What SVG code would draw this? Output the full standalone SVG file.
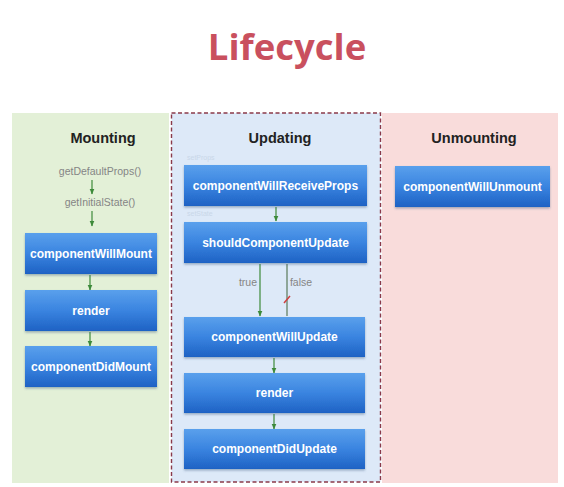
<svg xmlns="http://www.w3.org/2000/svg" width="564" height="487" viewBox="0 0 564 487">
<defs>
<linearGradient id="bg" x1="0" y1="0" x2="0" y2="1">
<stop offset="0" stop-color="#5aa0ec"/>
<stop offset="0.5" stop-color="#3a84e0"/>
<stop offset="1" stop-color="#1e62c4"/>
</linearGradient>
<filter id="sh" x="-5%" y="-10%" width="110%" height="130%">
<feDropShadow dx="0" dy="1.5" stdDeviation="1" flood-color="#3a5a80" flood-opacity="0.45"/>
</filter>
<marker id="ah" viewBox="0 0 6 6" refX="5.5" refY="3" markerWidth="6" markerHeight="6" orient="auto" markerUnits="userSpaceOnUse">
<path d="M0,0.5 L6,3 L0,5.5 Z" fill="#3d8a3a"/>
</marker>
</defs>
<style>
.box{fill:url(#bg);filter:url(#sh)}
.bt{font-family:"Liberation Sans",Arial,sans-serif;font-weight:bold;font-size:12px;fill:#fff;text-anchor:middle}
.hd{font-family:"Liberation Sans",Arial,sans-serif;font-weight:bold;font-size:14.5px;fill:#222;text-anchor:middle}
.sm{font-family:"Liberation Sans",Arial,sans-serif;font-size:10.5px;fill:#858585;text-anchor:middle}
.fa{font-family:"Liberation Sans",Arial,sans-serif;font-size:7px;fill:#c9d7e8}
.cn{stroke:#3d8a3a;stroke-width:1.2;fill:none;marker-end:url(#ah)}
</style>
<rect width="564" height="487" fill="#ffffff"/>
<text x="287" y="60" font-family="'Open Sans','Noto Sans',sans-serif" font-weight="bold" font-size="36.5" fill="#c9505e" text-anchor="middle">Lifecycle</text>

<g id="mounting-panel">
<rect x="12" y="113" width="157" height="370" fill="#e3f0d7"/>
<text class="hd" x="103" y="143">Mounting</text>
<text class="sm" x="100" y="175">getDefaultProps()</text>
<text class="sm" x="100" y="206">getInitialState()</text>
</g>
<g id="updating-panel">
<rect x="171.5" y="113" width="209" height="369" fill="#dde9f8" stroke="#8a3a4a" stroke-width="1.4" stroke-dasharray="4,2.5"/>
<text class="hd" x="280" y="143">Updating</text>
<text class="fa" x="187" y="160">setProps</text>
<text class="fa" x="187" y="216">setState</text>
<text class="sm" x="248" y="286" font-size="9.5">true</text>
<text class="sm" x="301" y="286" font-size="9.5">false</text>
</g>
<g id="unmounting-panel">
<rect x="382" y="113" width="176" height="370" fill="#f9dcdb"/>
<text class="hd" x="474" y="143">Unmounting</text>
</g>

<g id="connectors">
<line class="cn" x1="92" y1="180" x2="92" y2="194"/>
<line class="cn" x1="92" y1="211" x2="92" y2="226"/>
<line class="cn" x1="90" y1="275" x2="90" y2="290"/>
<line class="cn" x1="90" y1="332" x2="90" y2="346"/>
<line class="cn" x1="276" y1="207" x2="276" y2="221"/>
<line class="cn" x1="260" y1="264" x2="260" y2="316"/>
<line x1="287" y1="264" x2="287" y2="316" stroke="#5a7a5a" stroke-width="1.2"/>
<line x1="284" y1="303" x2="290" y2="296" stroke="#d04040" stroke-width="1.5"/>
<line class="cn" x1="274" y1="358" x2="274" y2="373"/>
<line class="cn" x1="274" y1="414" x2="274" y2="429"/>
</g>

<g id="componentWillMount"><rect class="box" x="25" y="233" width="132" height="41"/><text class="bt" x="91" y="258">componentWillMount</text></g>
<g id="render-mount"><rect class="box" x="25" y="290" width="132" height="41"/><text class="bt" x="91" y="315">render</text></g>
<g id="componentDidMount"><rect class="box" x="25" y="346" width="132" height="41"/><text class="bt" x="91" y="371">componentDidMount</text></g>

<g id="componentWillReceiveProps"><rect class="box" x="184" y="165" width="183" height="41"/><text class="bt" x="275.5" y="190">componentWillReceiveProps</text></g>
<g id="shouldComponentUpdate"><rect class="box" x="184" y="222" width="183" height="41"/><text class="bt" x="275.5" y="247">shouldComponentUpdate</text></g>
<g id="componentWillUpdate"><rect class="box" x="184" y="317" width="181" height="40"/><text class="bt" x="274.5" y="341">componentWillUpdate</text></g>
<g id="render-update"><rect class="box" x="184" y="373" width="181" height="40"/><text class="bt" x="274.5" y="397">render</text></g>
<g id="componentDidUpdate"><rect class="box" x="184" y="429" width="181" height="40"/><text class="bt" x="274.5" y="453">componentDidUpdate</text></g>

<g id="componentWillUnmount"><rect class="box" x="395" y="166" width="155" height="41"/><text class="bt" x="472.5" y="191">componentWillUnmount</text></g>
</svg>
